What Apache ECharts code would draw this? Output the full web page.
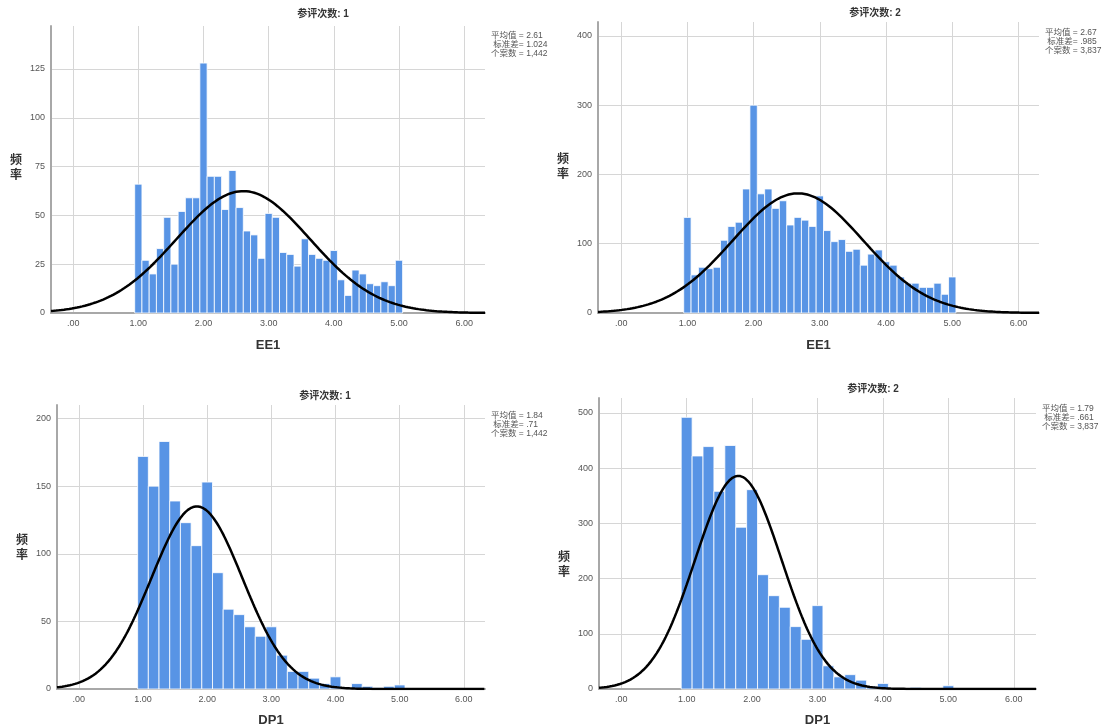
<!DOCTYPE html>
<html>
<head>
<meta charset="utf-8">
<title>EE1 / DP1 直方图</title>
<script src="https://cdn.jsdelivr.net/npm/echarts@6/dist/echarts.min.js"></script>
<style>
html, body { margin: 0; padding: 0; background: #fff; }
#main { width: 1102px; height: 728px; }
</style>
</head>
<body>
<div id="main"></div>
<script>
// 各组频数 (从 1.00 开始, 每组一个柱子)
var ee1Round1 = [66, 27, 20, 33, 49, 25, 52, 59, 59, 128, 70, 70, 53, 73, 54, 42, 40, 28, 51, 49,
                 31, 30, 24, 38, 30, 28, 27, 32, 17, 9, 22, 20, 15, 14, 16, 14, 27];
var ee1Round2 = [138, 55, 66, 64, 66, 105, 125, 131, 179, 300, 172, 179, 151, 162, 127, 138, 134, 125, 169, 119,
                 103, 106, 89, 92, 69, 85, 91, 74, 69, 52, 43, 43, 37, 37, 43, 27, 52];
var dp1Round1 = [172, 150, 183, 139, 123, 106, 153, 86, 59, 55, 46, 39, 46, 25, 13, 13, 8, 4, 9, 1, 4, 2, 1, 2, 3];
var dp1Round2 = [492, 422, 439, 358, 441, 293, 361, 207, 169, 148, 113, 90, 151, 42, 22, 26, 16, 5, 10, 1, 1, 3, 1, 0, 6];

// 统计量
var statMean = [2.61, 2.67, 1.84, 1.79];
var statSd = [1.024, 0.985, 0.71, 0.661];
var statN = [1442, 3837, 1442, 3837];

var panelTitles = ['参评次数: 1', '参评次数: 2', '参评次数: 1', '参评次数: 2'];
var xNames = ['EE1', 'EE1', 'DP1', 'DP1'];
var binWidths = [1 / 9, 1 / 9, 1 / 6, 1 / 6];
var binStart = 1;
var yMax = [147, 420, 210, 527];
var yStep = [25, 100, 50, 100];
var xMin = [-0.34, -0.35, -0.34, -0.34];
var xMax = [6.32, 6.31, 6.33, 6.34];

var allBins = [ee1Round1, ee1Round2, dp1Round1, dp1Round2];

// 版面
var grids = [
    {left: 51, top: 26, width: 434, height: 287},
    {left: 598, top: 22, width: 441, height: 291},
    {left: 57, top: 405, width: 428, height: 284},
    {left: 599, top: 398, width: 437, height: 291}
];
var titlePos = [[323, 14], [875, 13], [325, 396], [873, 389]];
var statPos = [[491, 45], [1045, 42], [491, 425], [1042, 418]];
var yNamePos = [[16, 160], [563, 159], [22, 540], [564, 557]];

var FONT = "'Liberation Sans', 'Noto Sans CJK SC', sans-serif";
var BAR_COLOR = '#5894e5';

function fmtNum(v, digits) {
    var s = v.toFixed(digits);
    return s.charAt(0) === '0' ? s.slice(1) : s;
}

function fmtSd(v) {
    var s = String(v);
    return s.charAt(0) === '0' ? s.slice(1) : s;
}

function fmtN(v) {
    return String(v).replace(/\B(?=(\d{3})+(?!\d))/g, ',');
}

function renderBin(params, api) {
    var x = api.value(0), y = api.value(1), w = api.value(2);
    var p0 = api.coord([x - w / 2, y]);
    var p1 = api.coord([x + w / 2, 0]);
    return {
        type: 'rect',
        shape: {x: p0[0], y: p0[1], width: p1[0] - p0[0], height: p1[1] - p0[1]},
        style: {fill: BAR_COLOR, stroke: '#ffffff', lineWidth: 0.8}
    };
}

function normalCurve(i) {
    var pts = [];
    var scale = statN[i] * binWidths[i] / (statSd[i] * Math.sqrt(2 * Math.PI));
    for (var x = xMin[i]; x <= xMax[i] + 1e-9; x += 0.02) {
        var z = (x - statMean[i]) / statSd[i];
        pts.push([x, scale * Math.exp(-0.5 * z * z)]);
    }
    return pts;
}

var chart = echarts.init(document.getElementById('main'));

var xAxes = [], yAxes = [], series = [], graphics = [];

for (var i = 0; i < 4; i++) {
    xAxes.push({
        type: 'value', gridIndex: i, min: xMin[i], max: xMax[i], splitNumber: 6,
        name: xNames[i], nameLocation: 'middle', nameGap: i < 2 ? 26 : 25,
        nameTextStyle: {fontSize: 13, fontWeight: 'bold', color: '#333', fontFamily: FONT},
        axisLine: {show: true, onZero: false, lineStyle: {color: '#a8a8a8', width: 2}},
        axisTick: {show: false},
        axisLabel: {
            fontSize: 9, color: '#555', margin: 6, fontFamily: FONT,
            showMinLabel: false, showMaxLabel: false,
            formatter: function (v) {
                if (Math.abs(v - Math.round(v)) > 1e-6) return '';
                return fmtNum(v, 2);
            }
        },
        splitLine: {show: true, showMinLine: false, showMaxLine: false, lineStyle: {color: '#d6d6d6', width: 1}}
    });
    yAxes.push({
        type: 'value', gridIndex: i, min: 0, max: yMax[i], interval: yStep[i],
        axisLine: {show: true, onZero: false, lineStyle: {color: '#a8a8a8', width: 2}},
        axisTick: {show: false},
        axisLabel: {
            fontSize: 9, color: '#555', margin: 6, fontFamily: FONT,
            showMaxLabel: false,
            formatter: function (v) {
                return v % 25 === 0 ? String(v) : '';
            }
        },
        splitLine: {show: true, showMinLine: false, showMaxLine: false, lineStyle: {color: '#d6d6d6', width: 1}}
    });

    var binData = [];
    allBins[i].forEach(function (c, k) {
        if (c > 0) binData.push([binStart + k * binWidths[i], c, binWidths[i]]);
    });
    series.push({
        type: 'custom', xAxisIndex: i, yAxisIndex: i,
        renderItem: renderBin, encode: {x: 0, y: 1},
        data: binData, silent: true, z: 2
    });
    series.push({
        type: 'line', xAxisIndex: i, yAxisIndex: i,
        data: normalCurve(i), showSymbol: false, symbol: 'none', smooth: false,
        clip: true, silent: true, z: 5,
        lineStyle: {color: '#000', width: 2.5}
    });

    graphics.push({
        type: 'text', x: titlePos[i][0], y: titlePos[i][1],
        style: {text: panelTitles[i], fill: '#333', font: 'bold 10px ' + FONT,
                textAlign: 'center', textVerticalAlign: 'middle'}
    });
    graphics.push({
        type: 'text', x: statPos[i][0], y: statPos[i][1],
        style: {
            text: '平均值 = ' + statMean[i].toFixed(2) + '\n 标准差= ' + fmtSd(statSd[i]) + '\n个案数 = ' + fmtN(statN[i]),
            fill: '#555', font: '8.5px ' + FONT, lineHeight: 9,
            textAlign: 'left', textVerticalAlign: 'middle'
        }
    });
    graphics.push({
        type: 'text', x: yNamePos[i][0], y: yNamePos[i][1] - 7,
        style: {text: '频\n率', fill: '#333', font: 'bold 12px ' + FONT, lineHeight: 15,
                textAlign: 'center', textVerticalAlign: 'top'}
    });
}

chart.setOption({
    backgroundColor: '#fff',
    animation: false,
    grid: grids,
    xAxis: xAxes,
    yAxis: yAxes,
    series: series,
    graphic: graphics
});
</script>
</body>
</html>
